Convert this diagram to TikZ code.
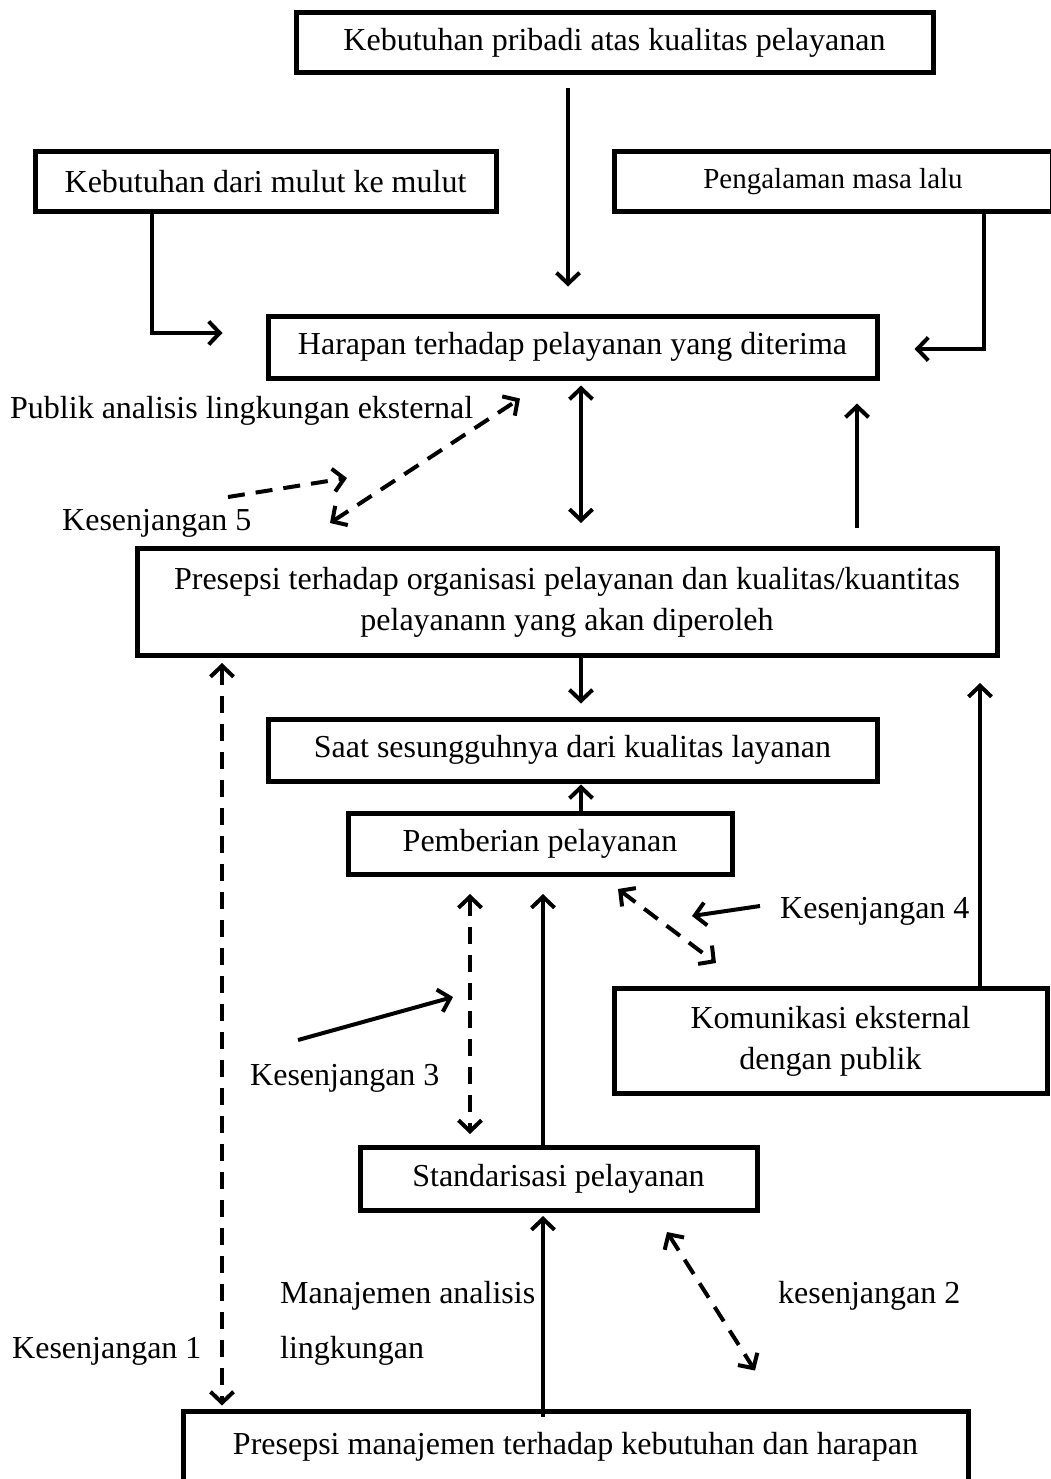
\documentclass[tikz,border=0pt]{standalone}
\usepackage{fontspec}
\setmainfont{Liberation Serif}
\usetikzlibrary{arrows.meta}
\begin{document}
\begin{tikzpicture}[x=1pt,y=-1pt,
  box/.style={draw, line width=5pt, inner sep=0pt, align=center, font=\fontsize{32}{41}\selectfont},
  lbl/.style={inner sep=0pt, anchor=west, font=\fontsize{32}{41}\selectfont},
  tipa/.tip={Straight Barb[length=11pt,width=23pt]},
  arr/.style={line width=4pt, -tipa},
  darr/.style={line width=4pt, tipa-tipa},
  dsh/.style={dash pattern=on 17pt off 11pt}
]
\useasboundingbox (0,0) rectangle (1051,1479);
\clip (0,0) rectangle (1051,1479);
\fill[white] (0,0) rectangle (1051,1479);

% boxes
\node[box, minimum width=637pt, minimum height=60pt] (top) at (614.5,43) {Kebutuhan pribadi atas kualitas pelayanan};
\node[box, minimum width=461pt, minimum height=60pt] (mulut) at (265.5,182) {Kebutuhan dari mulut ke mulut};
\node[box, minimum width=438pt, minimum height=60pt, font=\fontsize{29}{38}\selectfont] (lalu) at (833,182) {Pengalaman masa lalu};
\node[box, minimum width=609pt, minimum height=62pt] (harapan) at (572.5,347) {Harapan terhadap pelayanan yang diterima};
\node[box, minimum width=860pt, minimum height=107pt] (org) at (567,602) {Presepsi terhadap organisasi pelayanan dan kualitas/kuantitas\\pelayanann yang akan diperoleh};
\node[box, minimum width=609pt, minimum height=62pt] (saat) at (572.5,750) {Saat sesungguhnya dari kualitas layanan};
\node[box, minimum width=384pt, minimum height=61pt] (beri) at (540,844) {Pemberian pelayanan};
\node[box, minimum width=433pt, minimum height=105pt] (kom) at (830.5,1041) {Komunikasi eksternal\\dengan publik};
\node[box, minimum width=397pt, minimum height=63pt] (std) at (558.5,1179) {Standarisasi pelayanan};
\node[box, minimum width=785pt, minimum height=72pt] (mgmt) at (575.5,1447) {Presepsi manajemen terhadap kebutuhan dan harapan};

% labels
\node[lbl] (pub) at (10,411) {Publik analisis lingkungan eksternal};
\node[lbl] (k5) at (62,523) {Kesenjangan 5};
\node[lbl] (k4) at (780,911) {Kesenjangan 4};
\node[lbl] (k3) at (250,1078) {Kesenjangan 3};
\node[lbl] (k1) at (12,1351) {Kesenjangan 1};
\node[lbl] (man1) at (280,1296) {Manajemen analisis};
\node[lbl] (man2) at (280,1351) {lingkungan};
\node[lbl] (k2) at (778,1296) {kesenjangan 2};

% free-end coordinates
\coordinate (k5s) at (228,497);
\coordinate (k5e) at (347,478);
\coordinate (k4s) at (760,906);
\coordinate (k4e) at (692,916);
\coordinate (k3s) at (298,1040);
\coordinate (k3e) at (453,997);

% solid connectors
\draw[arr] ([xshift=-46.5pt,yshift=-13pt]top.south) -- ([xshift=-4.5pt,yshift=27pt]harapan.north);
\draw[arr] ([xshift=-113.5pt]mulut.south) |- ([xshift=-43pt,yshift=14pt]harapan.west);
\draw[arr] ([xshift=151pt]lalu.south) |- ([xshift=35pt,yshift=-2pt]harapan.east);
\draw[darr] ([xshift=8.5pt,yshift=-5pt]harapan.south) -- ([xshift=14pt,yshift=23pt]org.north);
\draw[arr] ([xshift=290pt,yshift=18pt]org.north) -- ([xshift=284.5pt,yshift=-23pt]harapan.south);
\draw[arr] ([xshift=14pt]org.south) -- ([xshift=8.5pt,yshift=13pt]saat.north);
\draw[arr] ([xshift=41pt]beri.north) -- ([xshift=8.5pt,yshift=-1pt]saat.south);
\draw[arr] ([xshift=149.5pt]kom.north) -- ([xshift=413pt,yshift=-25pt]org.south);
\draw[arr] ([xshift=-15.5pt]std.north) -- ([xshift=3pt,yshift=-17pt]beri.south);
\draw[arr] ([xshift=-32.5pt,yshift=-8pt]mgmt.north) -- ([xshift=-15.5pt,yshift=-3pt]std.south);
\draw[arr] (k4s) -- (k4e);
\draw[arr] (k3s) -- (k3e);

% dashed connectors
\draw[darr, dsh] ([xshift=-237pt,yshift=23pt]org.north) -- ([xshift=-52.5pt,yshift=-18pt]harapan.south);
\draw[arr, dsh] (k5s) -- (k5e);
\draw[darr, dsh] ([xshift=-70pt,yshift=-17pt]beri.south) -- ([xshift=-88.5pt,yshift=11pt]std.north);
\draw[darr, dsh] ([xshift=78pt,yshift=-12pt]beri.south) -- ([xshift=-114.5pt,yshift=23pt]kom.north);
\draw[darr, dsh] ([xshift=-345pt,yshift=-5pt]org.south) -- ([xshift=-353.5pt,yshift=3pt]mgmt.north);
\draw[darr, dsh] ([xshift=108.5pt,yshift=-19pt]std.south) -- ([xshift=179.5pt,yshift=38pt]mgmt.north);
\end{tikzpicture}
\end{document}
